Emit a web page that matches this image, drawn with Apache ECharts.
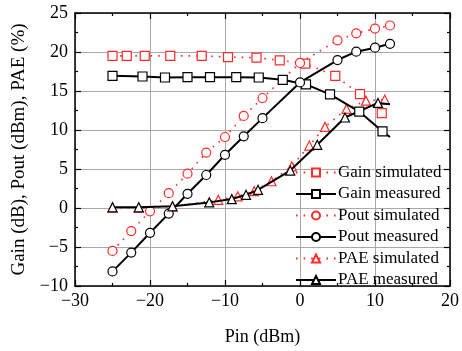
<!DOCTYPE html>
<html><head><meta charset="utf-8">
<script src="https://cdn.jsdelivr.net/npm/echarts@6/dist/echarts.min.js"></script>
<style>html,body{margin:0;padding:0;background:#fff}#c{width:462px;height:351px}</style>
</head><body><div id="c"></div>
<script>
// ---- data ----
const gainSimX = [-25,-23.1,-20.7,-17.3,-13.1,-9.6,-5.8,-2.7,0.7,4.7,8,10.9,12];
const gainSimY = [19.5,19.5,19.5,19.5,19.5,19.35,19.27,18.93,18.5,16.94,14.6,12.16,11.4];
const gainSimMark = [1,1,1,1,1,1,1,1,1,1,1,1,0];

const gainMeasX = [-25,-21,-18,-15,-12,-8.5,-5.5,-2.3,0.8,4,7.9,11,12];
const gainMeasY = [16.94,16.86,16.73,16.77,16.77,16.77,16.73,16.43,15.84,14.57,12.36,9.82,9.11];
const gainMeasMark = [1,1,1,1,1,1,1,1,1,1,1,1,0];

const poutSimX = [-25,-22.5,-20,-17.5,-15,-12.5,-10,-7.5,-5,0,5,7.5,10,12];
const poutSimY = [-5.5,-2.96,-0.42,1.9,4.4,7.1,9.1,11.8,14.1,18.6,21.5,22.4,23.0,23.4];

const poutMeasX = [-25,-22.5,-20,-17.5,-15,-12.5,-10,-7.5,-5,0,5,7.5,10,12];
const poutMeasY = [-8.13,-5.72,-3.18,-0.72,1.82,4.23,6.82,9.19,11.52,16.1,18.97,20.04,20.55,21.05];

const paeSimX = [-25,-21.5,-17,-10.9,-8.3,-6.1,-3.8,-1.1,1.24,3.33,6.2,8.8,11.3];
const paeSimY = [0.05,0.05,0.2,1.05,1.5,2.16,3.43,5.34,8.0,10.4,12.7,13.76,13.9];

const paeMeasX = [-25,-21.5,-17,-12.1,-9.1,-7.2,-5.6,-1.3,2.3,6,10.4,12];
const paeMeasY = [0.09,0.09,0.22,0.72,1.14,1.69,2.33,4.8,8.1,11.6,13.47,13.3];
const paeMeasMark = [1,1,1,1,1,1,1,1,1,1,1,0];

const xTicks = [-30,-20,-10,0,10,20];
const yTicks = [-10,-5,0,5,10,15,20,25];
const seriesNames = ['Gain simulated','Gain measured','Pout simulated','Pout measured','PAE simulated','PAE measured'];

// ---- build ----
function pts(xs, ys, marks) {
  return xs.map((x, i) => {
    const d = { value: [x, ys[i]] };
    if (marks && !marks[i]) d.symbol = 'none';
    return d;
  });
}
const FONT = '"Liberation Serif","Times New Roman",serif';
const RED = '#ff2a2a';
const fmt = v => String(v).replace('-', '\u2212');

function sim(name, sym, data) {
  return { name, type: 'line', data, symbol: sym, symbolSize: 9,
    lineStyle: { color: RED, width: 1.6, type: [1.6, 6] },
    itemStyle: { color: '#fff', borderColor: RED, borderWidth: 1.2 },
    emphasis: { disabled: true }, animation: false, z: 2 };
}
function meas(name, sym, data) {
  return { name, type: 'line', data, symbol: sym, symbolSize: 9,
    lineStyle: { color: '#000', width: 2 },
    itemStyle: { color: '#fff', borderColor: '#000', borderWidth: 1.2 },
    emphasis: { disabled: true }, animation: false, z: 3 };
}

const axisCommon = {
  axisLine: { show: true, onZero: false, lineStyle: { color: '#000', width: 1.5 } },
  axisTick: { show: true, inside: true, length: 6, lineStyle: { color: '#000', width: 1.2 } },
  minorTick: { show: true, splitNumber: 2, length: 3, lineStyle: { color: '#000', width: 1.2 } },
};

const chart = echarts.init(document.getElementById('c'), null, { renderer: 'canvas' });
chart.setOption({
  animation: false,
  backgroundColor: '#fff',
  grid: { left: 75, right: 12, top: 13, bottom: 62, containLabel: false },
  xAxis: [
    Object.assign({ type: 'value', min: xTicks[0], max: xTicks[xTicks.length-1], interval: 10,
      name: 'Pin (dBm)', nameLocation: 'middle', nameGap: 42,
      nameTextStyle: { fontFamily: FONT, fontSize: 18, color: '#000' },
      axisLabel: { fontFamily: FONT, fontSize: 18, color: '#000', margin: 6, formatter: fmt },
      splitLine: { show: true, lineStyle: { color: '#a8a8a8', width: 1 } } }, axisCommon),
    Object.assign({ type: 'value', position: 'top', min: xTicks[0], max: xTicks[xTicks.length-1], interval: 10,
      axisLabel: { show: false }, splitLine: { show: false } }, axisCommon)
  ],
  yAxis: [
    Object.assign({ type: 'value', min: yTicks[0], max: yTicks[yTicks.length-1], interval: 5,
      name: 'Gain (dB), Pout (dBm), PAE (%)', nameLocation: 'middle', nameGap: 46,
      nameTextStyle: { fontFamily: FONT, fontSize: 19, color: '#000' },
      axisLabel: { fontFamily: FONT, fontSize: 18, color: '#000', margin: 7, formatter: fmt },
      splitLine: { show: true, lineStyle: { color: '#a8a8a8', width: 1 } } }, axisCommon),
    Object.assign({ type: 'value', position: 'right', min: yTicks[0], max: yTicks[yTicks.length-1], interval: 5,
      axisLabel: { show: false }, splitLine: { show: false } }, axisCommon)
  ],
  legend: {
    orient: 'vertical', left: 290, top: 159, itemWidth: 40, itemHeight: 10, itemGap: 4.5,
    data: seriesNames,
    textStyle: { fontFamily: FONT, fontSize: 17, color: '#000', lineHeight: 17, padding: [0,0,0,-3] },
    backgroundColor: 'transparent', selectedMode: false
  },
  series: [
    sim(seriesNames[0], 'rect', pts(gainSimX, gainSimY, gainSimMark)),
    meas(seriesNames[1], 'rect', pts(gainMeasX, gainMeasY, gainMeasMark)),
    sim(seriesNames[2], 'circle', pts(poutSimX, poutSimY)),
    meas(seriesNames[3], 'circle', pts(poutMeasX, poutMeasY)),
    sim(seriesNames[4], 'triangle', pts(paeSimX, paeSimY)),
    meas(seriesNames[5], 'triangle', pts(paeMeasX, paeMeasY, paeMeasMark))
  ]
});
</script>
</body></html>
